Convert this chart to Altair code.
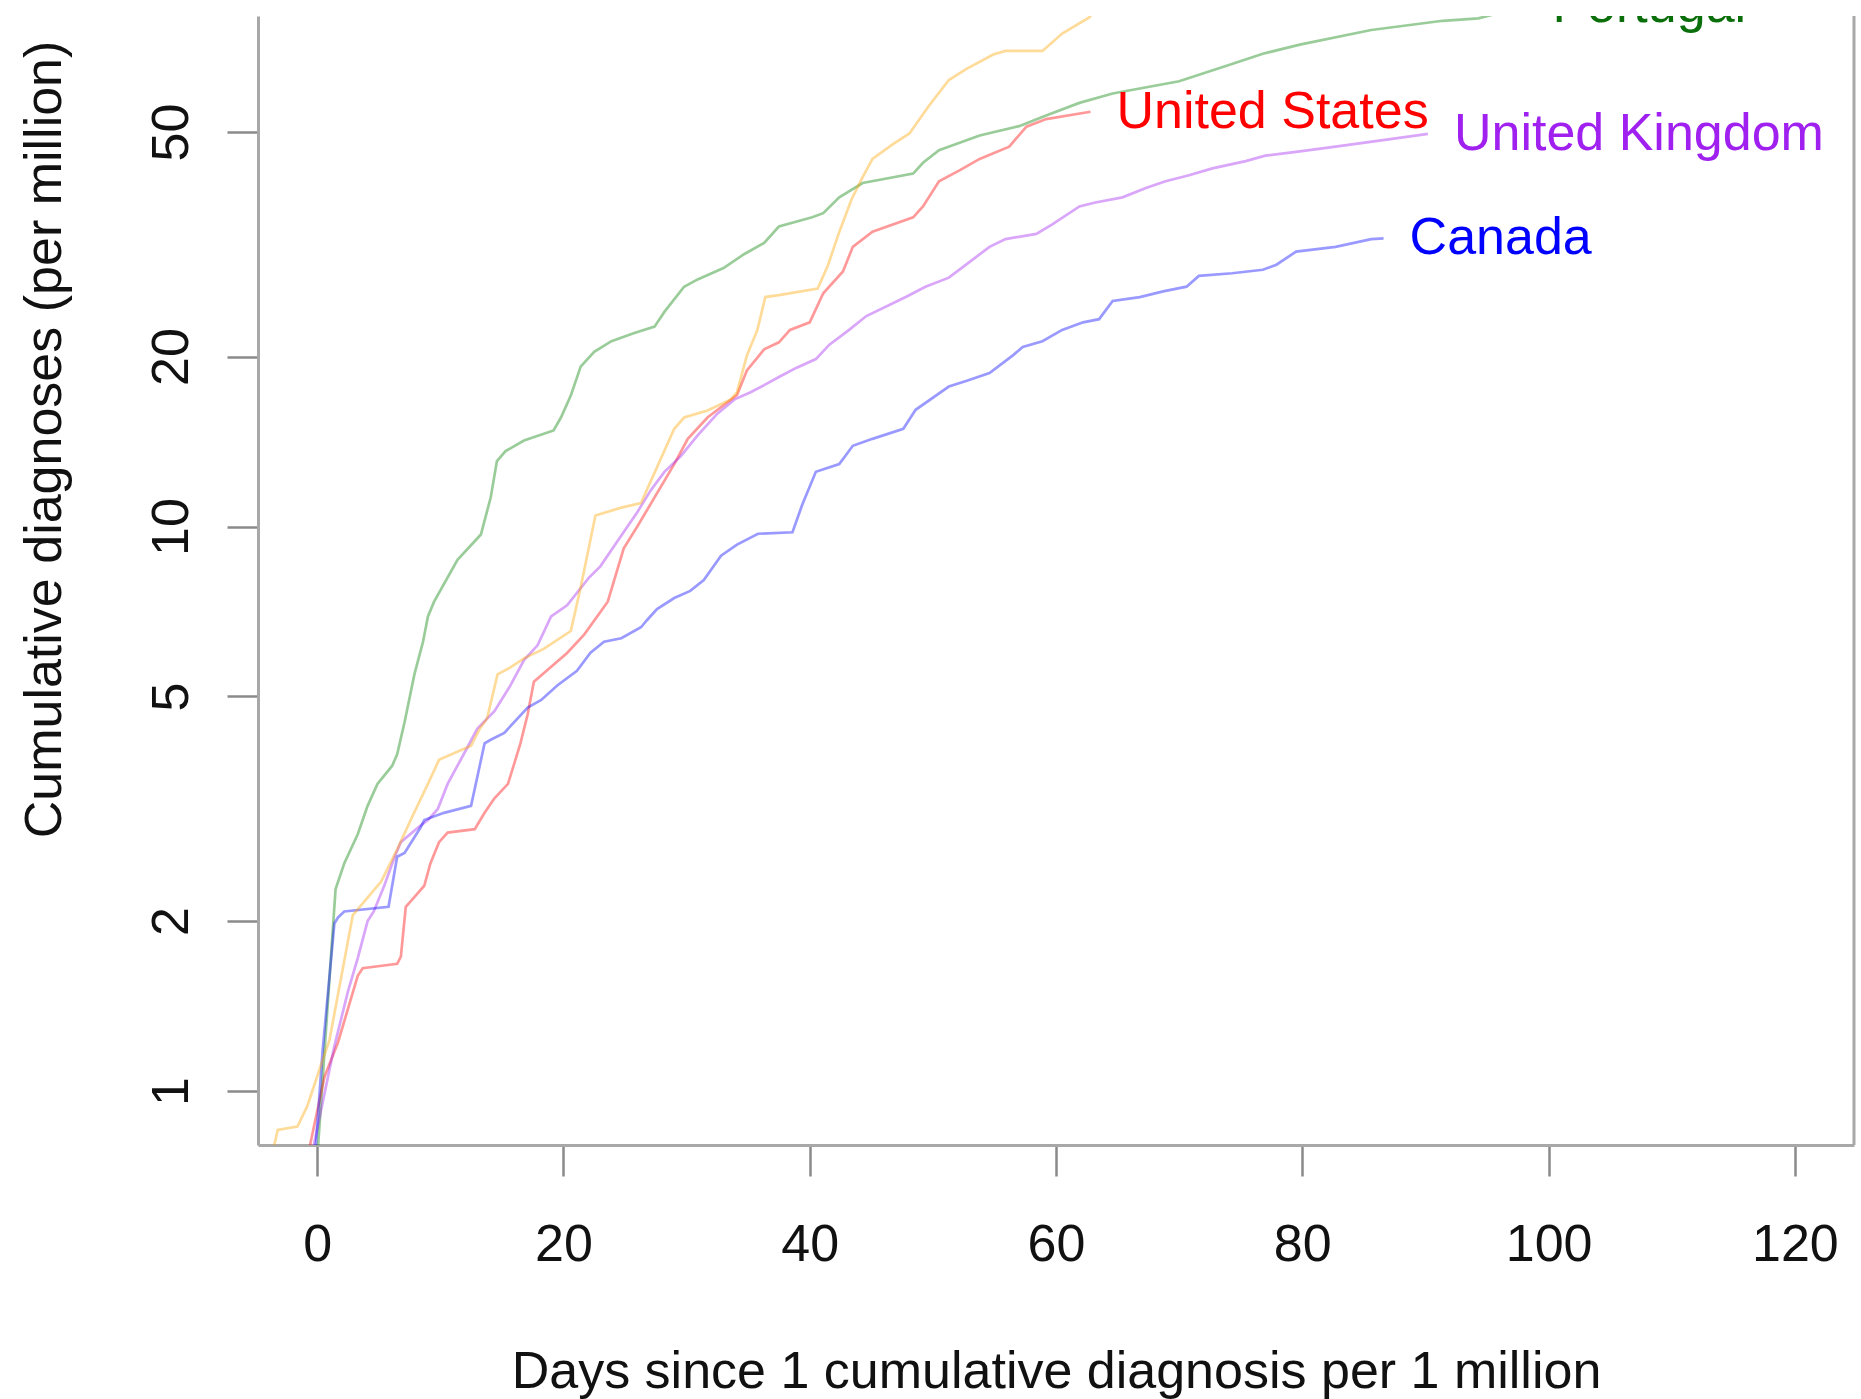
import altair as alt
import pandas as pd

# Cumulative diagnoses per million against days since passing 1 per million

portugal_days = [-0.1, 1.5, 2.2, 3.3, 4.1, 4.9, 6.1, 6.5, 7.1, 7.9, 8.6, 9.0, 9.5, 11.4,
                 13.3, 14.1, 14.6, 15.3, 16.8, 19.2, 19.8, 20.6, 21.4, 22.5, 23.9, 25.7,
                 27.4, 28.2, 29.8, 30.9, 33.0, 34.7, 36.3, 37.5, 40.2, 41.1, 42.4, 44.3,
                 48.4, 49.2, 50.5, 53.8, 57.0, 59.2, 61.9, 64.6, 70.0, 74.1, 76.8, 79.8,
                 85.6, 91.4, 94.3, 98.2]
portugal_vals = [0.70, 2.28, 2.53, 2.85, 3.2, 3.5, 3.77, 3.95, 4.5, 5.47, 6.25, 6.93, 7.36, 8.73,
                 9.68, 11.27, 13.06, 13.6, 14.2, 14.8, 15.6, 17.06, 19.2, 20.4, 21.3, 22.0,
                 22.6, 24.0, 26.6, 27.4, 28.7, 30.4, 31.8, 34.0, 35.3, 35.9, 38.3, 40.6,
                 42.2, 44.1, 46.4, 49.3, 51.2, 53.5, 56.3, 58.5, 61.5, 65.8, 68.8, 71.4,
                 75.8, 78.7, 79.5, 83.6]

us_days = [-0.8, 0.6, 1.7, 3.3, 3.7, 6.5, 6.8, 7.2, 7.7, 8.7, 9.2, 9.9, 10.6, 12.8, 13.6,
           14.4, 15.5, 16.5, 17.1, 17.6, 20.3, 21.7, 23.6, 24.9, 26.0, 29.0, 30.1, 31.7,
           34.1, 34.9, 36.3, 37.5, 38.4, 40.0, 41.1, 42.7, 43.5, 45.1, 48.4, 49.2, 50.5,
           52.2, 53.8, 56.2, 57.6, 59.2, 62.8]
us_vals = [0.76, 1.06, 1.22, 1.6, 1.65, 1.68, 1.73, 2.12, 2.18, 2.31, 2.53, 2.76, 2.87, 2.91, 3.11,
           3.3, 3.5, 4.12, 4.65, 5.31, 5.97, 6.44, 7.36, 9.15, 10.0, 12.9, 14.3, 15.6,
           17.1, 18.9, 20.6, 21.2, 22.3, 23.0, 25.9, 28.3, 31.3, 33.3, 35.3, 36.9, 40.9,
           42.8, 44.8, 47.1, 51.1, 52.7, 54.3]

uk_days = [-0.6, 1.4, 2.5, 3.3, 4.1, 4.6, 5.45, 6.3, 6.8, 8.2, 9.0, 9.8, 10.6, 11.4, 12.2,
           13.0, 14.4, 15.7, 16.8, 17.9, 19.0, 20.3, 22.1, 23.0, 24.4, 26.0, 27.1, 28.2,
           29.5, 30.9, 32.5, 33.9, 35.2, 36.3, 37.5, 38.9, 40.5, 41.6, 43.2, 44.6, 47.8,
           49.4, 51.3, 52.7, 54.6, 55.9, 58.4, 59.7, 61.9, 63.2, 65.4, 67.3, 68.9, 70.8,
           72.7, 75.4, 77.0, 79.8, 82.7, 87.0, 90.2]
uk_vals = [0.74, 1.2, 1.5, 1.72, 2.0, 2.08, 2.31, 2.6, 2.76, 2.93, 3.02, 3.16, 3.5, 3.77, 4.06,
           4.38, 4.71, 5.23, 5.8, 6.16, 6.93, 7.25, 8.13, 8.5, 9.43, 10.6, 11.6, 12.5,
           13.3, 14.5, 15.85, 16.8, 17.3, 17.8, 18.4, 19.1, 19.8, 21.0, 22.3, 23.6, 25.5,
           26.6, 27.6, 29.1, 31.3, 32.3, 33.0, 34.3, 36.9, 37.5, 38.3, 39.8, 40.9, 41.9,
           43.1, 44.4, 45.4, 46.2, 47.1, 48.5, 49.6]

canada_days = [-0.3, 0.45, 1.4, 1.7, 2.2, 5.8, 6.5, 7.1, 8.4, 8.7, 10.3, 12.5, 13.6, 14.1,
               15.2, 17.1, 18.2, 19.5, 21.1, 22.2, 23.3, 24.7, 26.3, 26.8, 27.6, 29.0,
               30.3, 31.4, 32.8, 34.1, 35.8, 38.6, 39.4, 40.5, 42.4, 43.5, 45.1, 47.6,
               48.6, 51.3, 52.7, 54.6, 56.5, 57.3, 58.9, 60.5, 62.2, 63.5, 64.6, 66.8,
               68.7, 70.6, 71.6, 74.3, 76.8, 77.9, 79.5, 82.7, 85.6, 86.6]
canada_vals = [0.70, 1.18, 1.98, 2.03, 2.08, 2.12, 2.6, 2.64, 2.93, 3.02, 3.11, 3.2, 4.13, 4.19,
               4.31, 4.78, 4.93, 5.23, 5.55, 5.98, 6.25, 6.34, 6.63, 6.83, 7.14, 7.47,
               7.69, 8.04, 8.88, 9.29, 9.71, 9.77, 10.94, 12.5, 12.9, 13.9, 14.3, 14.9,
               16.1, 17.7, 18.1, 18.7, 20.1, 20.8, 21.3, 22.3, 23.0, 23.3, 25.1, 25.5,
               26.1, 26.6, 27.8, 28.1, 28.5, 29.1, 30.7, 31.3, 32.3, 32.4]

# fifth country, whose curve leaves the top of the plot before its end label
fifth_days = [-3.6, -3.2, -1.6, -0.8, 0.45, 1.0, 2.9, 5.2, 6.5, 7.75, 9.0, 9.9, 12.5, 13.2,
              13.8, 14.65, 15.7, 16.8, 18.4, 20.6, 21.4, 22.6, 24.7, 26.3, 29.0, 29.8,
              31.7, 33.6, 34.1, 34.9, 35.75, 36.4, 37.5, 40.65, 41.5, 42.3, 43.4, 44.3,
              45.1, 46.7, 48.1, 49.7, 51.3, 52.7, 54.9, 55.9, 58.9, 60.5, 62.7, 63.5]
fifth_vals = [0.78, 0.853, 0.865, 0.94, 1.135, 1.23, 2.05, 2.35, 2.68, 3.07, 3.5, 3.86, 4.09, 4.38,
              4.57, 5.47, 5.63, 5.84, 6.07, 6.53, 7.8, 10.46, 10.8, 11.0, 14.9, 15.6,
              16.05, 16.8, 17.3, 20.1, 22.3, 25.5, 25.7, 26.4, 29.1, 32.8, 38.0, 41.6,
              44.8, 47.5, 49.7, 55.7, 61.8, 64.6, 68.6, 69.6, 69.6, 74.7, 79.8, 84.0]

series_names = ["Portugal", "United States", "United Kingdom", "Canada", "fifth"]
series_days = [portugal_days, us_days, uk_days, canada_days, fifth_days]
series_vals = [portugal_vals, us_vals, uk_vals, canada_vals, fifth_vals]
line_colors = ["#008000", "#FF0000", "#A020F0", "#0000FF", "#FFA500"]
label_colors = ["#0A6E0A", "#FF0000", "#A020F0", "#0000FF", "#FFA500"]
labelled = ["Portugal", "United States", "United Kingdom", "Canada"]

x_ticks = [0, 20, 40, 60, 80, 100, 120]
y_ticks = [1, 2, 5, 10, 20, 50]
x_domain = [-4.8, 124.8]
y_domain = [0.8023, 80.25]

rows = []
for name, days, vals in zip(series_names, series_days, series_vals):
    assert len(days) == len(vals), name
    for d, v in zip(days, vals):
        rows.append({"country": name, "day": d, "cases": v})
df = pd.DataFrame(rows)

ends = pd.DataFrame([
    {"country": n, "day": d[-1], "cases": v[-1]}
    for n, d, v in zip(series_names, series_days, series_vals) if n in labelled
])

W, H = 1596, 1129
FONT = "Liberation Sans"
FS = 52
AXIS_GREY = "#a8a8a8"
TICK_GREY = "#8a8a8a"

x_enc = alt.X(
    "day:Q",
    scale=alt.Scale(domain=x_domain, nice=False, zero=False),
    axis=alt.Axis(
        values=x_ticks, grid=False, title="Days since 1 cumulative diagnosis per 1 million",
        domainColor=AXIS_GREY, domainWidth=3, tickColor=TICK_GREY, tickWidth=2.5,
        tickSize=31, labelFont=FONT, labelFontSize=FS, labelColor="#111111",
        labelPadding=84, labelBaseline="alphabetic", labelFlush=False, labelOverlap=False,
        titleFont=FONT, titleFontSize=FS, titleFontWeight="normal", titleColor="#111111",
        titleX=W / 2, titleY=242, titleAlign="center", titleBaseline="alphabetic",
    ),
)
y_enc = alt.Y(
    "cases:Q",
    scale=alt.Scale(type="log", domain=y_domain, nice=False, zero=False),
    axis=alt.Axis(
        values=y_ticks, format="d", grid=False, title="Cumulative diagnoses (per million)",
        domainColor=AXIS_GREY, domainWidth=3, tickColor=TICK_GREY, tickWidth=2.5,
        tickSize=31, labelFont=FONT, labelFontSize=FS, labelColor="#111111",
        labelAngle=270, labelAlign="center", labelBaseline="alphabetic", labelPadding=40,
        labelFlush=False, labelOverlap=False,
        titleFont=FONT, titleFontSize=FS, titleFontWeight="normal", titleColor="#111111",
        titleAngle=270, titleAlign="center", titleBaseline="alphabetic",
        titleX=-198, titleY=423,
    ),
)

color_scale = alt.Scale(domain=series_names, range=line_colors)
text_scale = alt.Scale(domain=series_names, range=label_colors)

lines = alt.Chart(df).mark_line(strokeWidth=2.7, strokeOpacity=0.4, clip=True).encode(
    x=x_enc,
    y=y_enc,
    color=alt.Color("country:N", scale=color_scale, legend=None),
    order=alt.Order("day:Q"),
    detail="country:N",
)

labels = alt.Chart(ends).mark_text(
    align="left", baseline="middle", dx=26, font=FONT, fontSize=FS, clip=True
).encode(
    x=alt.X("day:Q", scale=alt.Scale(domain=x_domain, nice=False, zero=False)),
    y=alt.Y("cases:Q", scale=alt.Scale(type="log", domain=y_domain, nice=False, zero=False)),
    text="country:N",
    color=alt.Color("country:N", scale=text_scale, legend=None),
)

# right-hand side of the plot frame
frame_right = alt.Chart(pd.DataFrame({"edge": [0]})).mark_rule(
    color=AXIS_GREY, strokeWidth=3
).encode(x=alt.value(W), y=alt.value(0), y2=alt.value(H))

chart = alt.layer(lines, labels, frame_right).resolve_scale(color="independent").properties(
    width=W,
    height=H,
    padding={"left": 258, "top": 16, "right": 7, "bottom": 254},
    autosize=alt.AutoSizeParams(type="none"),
    background="white",
).configure_view(stroke=None)

chart.save("out.html", embed_options={"renderer": "svg", "actions": False})
